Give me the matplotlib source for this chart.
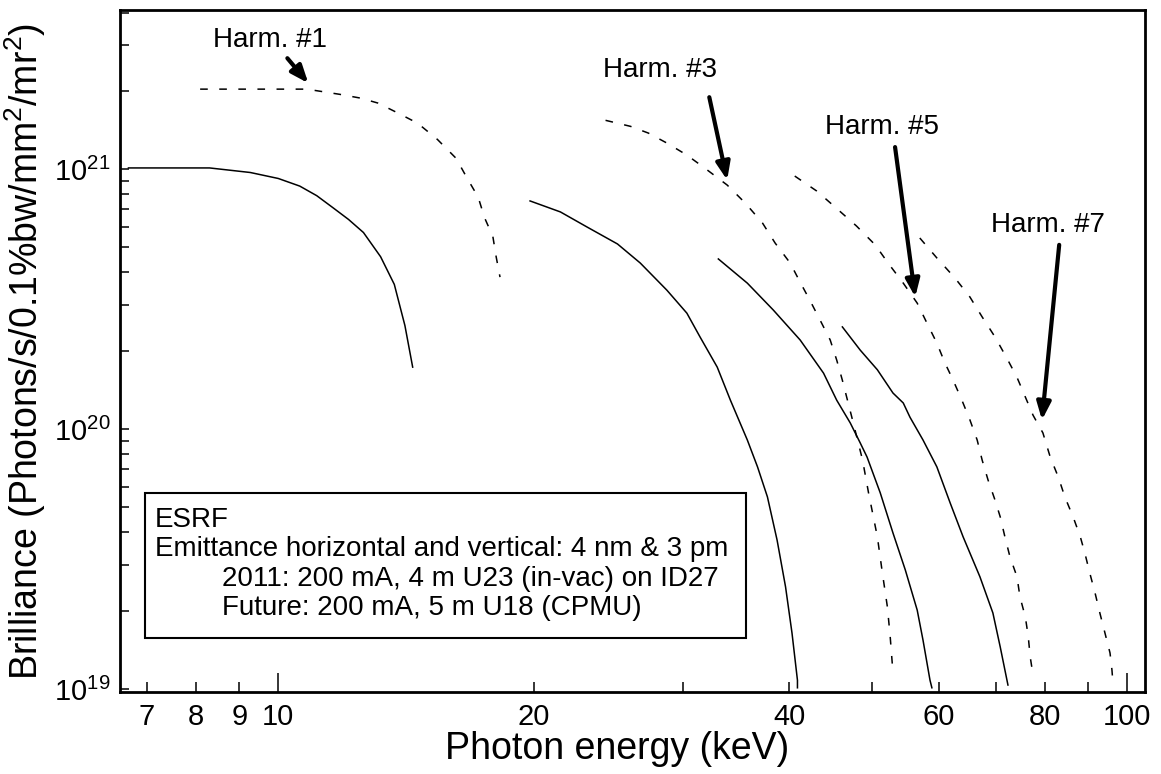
import numpy as np
import matplotlib
matplotlib.use("Agg")
import matplotlib.pyplot as plt
from matplotlib.patches import Rectangle
from matplotlib.ticker import FixedLocator, NullFormatter

plt.rcParams["font.family"] = ["Liberation Sans", "DejaVu Sans"]
plt.rcParams["mathtext.fontset"] = "custom"
plt.rcParams["mathtext.rm"] = "Liberation Sans"

# photon energy (keV) and brilliance (1e21 ph/s/0.1%bw/mm2/mr2)
# 2011: 4 m U23 (in-vac) on ID27 -> solid
h1_now_e = [6.66, 8.3, 9.27, 10.0, 10.6, 11.1, 11.6, 12.1, 12.6, 13.2, 13.7, 14.1, 14.4]
h1_now_b = [1.01, 1.01, 0.97, 0.92, 0.86, 0.79, 0.71, 0.64, 0.57, 0.46, 0.36, 0.25, 0.173]
h3_now_e = [19.8, 21.5, 23.1, 25.1, 26.7, 28.7, 30.3, 31.4, 32.9, 34.1, 35.7, 36.7,
            37.7, 38.7, 39.6, 40.3, 40.9, 40.9]
h3_now_b = [0.754, 0.684, 0.599, 0.515, 0.435, 0.342, 0.279, 0.226, 0.173, 0.129,
            0.0907, 0.0715, 0.0548, 0.0374, 0.0247, 0.0164, 0.0108, 0.0101]
h5_now_e = [33.0, 35.7, 38.3, 41.2, 43.9, 45.5, 47.2, 48.5, 49.4, 51.2, 53.0, 54.8,
            56.6, 57.5, 58.6, 58.9]
h5_now_b = [0.451, 0.364, 0.287, 0.220, 0.164, 0.129, 0.1055, 0.0883, 0.078, 0.0568,
            0.0398, 0.0287, 0.0201, 0.0154, 0.0108, 0.0101]
h7_now_e = [46.2, 48.5, 50.8, 53.0, 54.5, 55.5, 57.5, 59.7, 61.9, 64.1, 67.1, 69.5,
            70.9, 72.4]
h7_now_b = [0.247, 0.201, 0.169, 0.1375, 0.1259, 0.111, 0.0907, 0.0715, 0.0519,
            0.0385, 0.027, 0.0196, 0.0145, 0.01035]

# future: 5 m U18 (CPMU) -> dashed
h1_fut_e = [8.09, 10.8, 11.8, 12.5, 13.1, 13.85, 14.6, 15.4, 16.2, 16.7, 17.2, 17.5,
            17.9, 18.06, 18.25]
h1_fut_b = [2.03, 2.03, 1.94, 1.875, 1.795, 1.64, 1.50, 1.30, 1.10, 0.92, 0.78, 0.65,
            0.55, 0.46, 0.384]
h3_fut_e = [24.3, 26.0, 27.3, 28.7, 30.3, 31.8, 33.8, 35.5, 37.2, 38.5, 40.1, 41.2,
            42.3, 43.5, 44.7, 45.5, 46.2, 47.4, 48.8, 49.6, 50.8, 51.5, 52.2, 52.6, 53.0]
h3_fut_b = [1.54, 1.46, 1.375, 1.259, 1.132, 1.009, 0.868, 0.740, 0.620, 0.519, 0.435,
            0.367, 0.313, 0.262, 0.220, 0.184, 0.154, 0.111, 0.076, 0.0568, 0.0385,
            0.0279, 0.0207, 0.0159, 0.01153]
h5_fut_e = [40.6, 43.1, 45.3, 48.0, 50.5, 52.3, 54.5, 56.6, 58.1, 59.7, 61.0, 62.4,
            63.9, 65.3, 66.6, 67.5, 68.6, 69.9, 70.9, 71.8, 72.8, 74.2, 74.8, 75.9,
            76.5, 76.9, 77.5]
h5_fut_b = [0.940, 0.823, 0.714, 0.604, 0.511, 0.435, 0.364, 0.305, 0.256, 0.214,
            0.180, 0.154, 0.129, 0.1084, 0.0907, 0.076, 0.0636, 0.0533, 0.0459, 0.0385,
            0.0322, 0.027, 0.0226, 0.0189, 0.0159, 0.0133, 0.0113]
h7_fut_e = [57.0, 59.7, 62.7, 65.3, 67.5, 69.9, 72.2, 74.2, 75.9, 77.5, 79.6, 81.2,
            83.0, 84.5, 86.4, 88.1, 89.2, 90.4, 91.7, 92.9, 94.2, 95.5, 96.0, 96.3]
h7_fut_b = [0.543, 0.455, 0.381, 0.322, 0.270, 0.226, 0.187, 0.158, 0.1327, 0.113,
            0.0966, 0.078, 0.0653, 0.0547, 0.0459, 0.0385, 0.0333, 0.0279, 0.0234,
            0.0196, 0.0164, 0.01375, 0.01183, 0.01035]

# harmonic labels: text position, arrow tail, arrow tip (keV, 1e21)
harm_names = ["Harm. #1", "Harm. #3", "Harm. #5", "Harm. #7"]
text_pos = [(9.79, 3.13), (28.2, 2.40), (51.45, 1.45), (80.7, 0.609)]
arrow_tail = [(10.25, 2.67), (32.2, 1.89), (53.3, 1.215), (83.2, 0.511)]
arrow_tip = [(10.85, 2.14), (33.8, 0.907), (56.3, 0.322), (79.4, 0.1083)]

box_lines = ["ESRF",
             "Emittance horizontal and vertical: 4 nm & 3 pm",
             "2011: 200 mA, 4 m U23 (in-vac) on ID27",
             "Future: 200 mA, 5 m U18 (CPMU)"]

scale = 1e21

fig = plt.figure(figsize=(11.61, 7.74), dpi=100)
ax = fig.add_axes([0.1034, 0.1059, 0.8828, 0.8811])

for e, b in [(h1_now_e, h1_now_b), (h3_now_e, h3_now_b),
             (h5_now_e, h5_now_b), (h7_now_e, h7_now_b)]:
    ax.plot(e, np.array(b) * scale, color="black", lw=1.1)

for e, b in [(h1_fut_e, h1_fut_b), (h3_fut_e, h3_fut_b),
             (h5_fut_e, h5_fut_b), (h7_fut_e, h7_fut_b)]:
    ln, = ax.plot(e, np.array(b) * scale, color="black", lw=1.1)
    ln.set_dashes((5, 7.5))

ax.set_xscale("log")
ax.set_yscale("log")
ax.set_xlim(6.51, 105)
ax.set_ylim(10 ** 18.988, 4.09e21)

# x ticks: long at 10 and 100, short with labels elsewhere
ax.xaxis.set_major_locator(FixedLocator([10, 100]))
ax.xaxis.set_minor_locator(FixedLocator([7, 8, 9, 20, 30, 40, 50, 60, 70, 80, 90]))
ax.set_xticklabels(["10", "100"])
ax.xaxis.set_minor_formatter(plt.FuncFormatter(
    lambda v, p: str(int(round(v))) if int(round(v)) in (7, 8, 9, 20, 40, 60, 80) else ""))

ax.yaxis.set_major_locator(FixedLocator([1e19, 1e20, 1e21]))
ax.set_yticklabels([r"$\mathregular{10^{19}}$", r"$\mathregular{10^{20}}$",
                    r"$\mathregular{10^{21}}$"])
ax.yaxis.set_minor_locator(FixedLocator(
    [m * 10.0 ** k for k in (19, 20, 21) for m in range(2, 10)]))
ax.yaxis.set_minor_formatter(NullFormatter())

ax.tick_params(axis="x", which="major", direction="in", length=13.7, width=1.1,
               labelsize=21, pad=8)
ax.tick_params(axis="x", which="minor", direction="in", length=7, width=1.1,
               labelsize=21, pad=8)
ax.tick_params(axis="y", which="both", direction="in", length=6.5, width=1.1,
               labelsize=21, pad=7)

for sp in ax.spines.values():
    sp.set_linewidth(2.0)

ax.set_xlabel("Photon energy (keV)", fontsize=27, labelpad=0)
ax.xaxis.set_label_coords(0.485, -0.057, transform=ax.transAxes)
ax.xaxis.label.set_va("top")
ax.set_ylabel(r"Brilliance (Photons/s/0.1%bw/mm$\mathregular{^2}$/mr$\mathregular{^2}$)",
              fontsize=27, labelpad=4)

for name, tp, tl, tip in zip(harm_names, text_pos, arrow_tail, arrow_tip):
    ax.text(tp[0], tp[1] * scale, name, fontsize=20, ha="center", va="center")
    ax.annotate("", xy=(tip[0], tip[1] * scale), xytext=(tl[0], tl[1] * scale),
                arrowprops=dict(arrowstyle="-|>,head_length=0.75,head_width=0.3",
                                lw=3, color="black", shrinkA=0, shrinkB=0,
                                mutation_scale=14))

ax.add_patch(Rectangle((0.0244, 0.0792), 0.5863, 0.2126, transform=ax.transAxes,
                       fill=False, edgecolor="black", lw=1.5, zorder=5))
line_y = [0.252, 0.2097, 0.1657, 0.1232]
line_x = [0.034, 0.034, 0.0995, 0.0995]
for s, lx, ly in zip(box_lines, line_x, line_y):
    ax.text(lx, ly, s, transform=ax.transAxes, fontsize=20, ha="left", va="center")

fig.savefig("out.png", dpi=100)
